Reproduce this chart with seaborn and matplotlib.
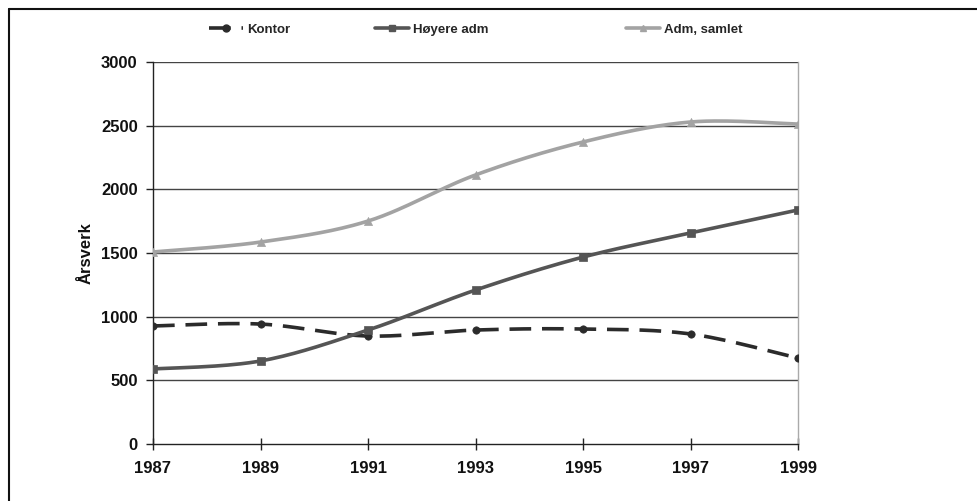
import numpy as np
import pandas as pd
import matplotlib
matplotlib.use("Agg")
import matplotlib.pyplot as plt
import seaborn as sns
from matplotlib.lines import Line2D

years = [1987, 1989, 1991, 1993, 1995, 1997, 1999]
kontor = [927, 942, 848, 895, 903, 864, 675]
hoyere_adm = [589, 652, 895, 1209, 1468, 1657, 1838]
adm_samlet = [1508, 1586, 1751, 2113, 2372, 2529, 2513]

series_names = ["Kontor", "Høyere adm", "Adm, samlet"]
series_values = [kontor, hoyere_adm, adm_samlet]
colors = ["#2b2b2b", "#555555", "#a3a3a3"]
markers = ["o", "s", "^"]
dashes = [(6, 3), None, None]

y_ticks = [0, 500, 1000, 1500, 2000, 2500, 3000]


def smooth(x, y, n=30):
    """Catmull-Rom style smoothed curve through the points (spreadsheet look)."""
    x = np.asarray(x, float)
    y = np.asarray(y, float)
    px = np.concatenate([[x[0]], x, [x[-1]]])
    py = np.concatenate([[y[0]], y, [y[-1]]])
    xs, ys = [], []
    for i in range(1, len(px) - 2):
        p0, p1, p2, p3 = (np.array([px[j], py[j]]) for j in (i - 1, i, i + 1, i + 2))
        c1 = p1 + (p2 - p0) / 6.0
        c2 = p2 - (p3 - p1) / 6.0
        t = np.linspace(0, 1, n)[:, None]
        pts = ((1 - t) ** 3) * p1 + 3 * ((1 - t) ** 2) * t * c1 + 3 * (1 - t) * t ** 2 * c2 + t ** 3 * p2
        if i > 1:
            pts = pts[1:]
        xs.append(pts[:, 0])
        ys.append(pts[:, 1])
    return np.concatenate(xs), np.concatenate(ys)


sns.set_theme(style="white")
plt.rcParams["font.family"] = ["Liberation Sans", "DejaVu Sans"]
plt.rcParams["font.weight"] = "bold"

fig = plt.figure(figsize=(9.77, 5.01), dpi=100)
ax = fig.add_axes([0.1566, 0.1138, 0.8168 - 0.1566, 0.8762 - 0.1138])

for name, vals, col, mk, ds in zip(series_names, series_values, colors, markers, dashes):
    sx, sy = smooth(years, vals)
    curve = pd.DataFrame({"År": sx, "Årsverk": sy})
    sns.lineplot(data=curve, x="År", y="Årsverk", ax=ax, color=col, lw=2.6,
                 sort=False, estimator=None, zorder=3)
    if ds:
        ax.lines[-1].set_dashes(ds)
    pts = pd.DataFrame({"År": years, "Årsverk": vals})
    sns.scatterplot(data=pts, x="År", y="Årsverk", ax=ax, color=col, marker=mk,
                    s=28 if mk != "^" else 34, edgecolor=col, linewidth=0.5, zorder=4)

ax.set_xlim(1987, 1999)
ax.set_ylim(0, 3000)
ax.set_xticks(years)
ax.set_yticks(y_ticks)
ax.set_xticklabels([str(y) for y in years], fontsize=12, fontweight="bold", color="#111111")
ax.set_yticklabels([str(v) for v in y_ticks], fontsize=12, fontweight="bold", color="#111111")
ax.set_xlabel("")
ax.set_ylabel("Årsverk", fontsize=12, fontweight="bold", color="#111111", labelpad=5)

for v in y_ticks[1:]:
    ax.axhline(v, color="#444444", lw=1.0, zorder=1)

for s in ["left", "bottom"]:
    ax.spines[s].set_color("#222222")
    ax.spines[s].set_linewidth(1.0)
ax.spines["top"].set_visible(False)
ax.spines["right"].set_color("#aaaaaa")
ax.spines["right"].set_linewidth(1.0)

ax.tick_params(axis="y", direction="out", length=5, width=1, color="#222222", pad=6, left=True)
ax.tick_params(axis="x", direction="inout", length=8, width=1, color="#222222", pad=8, bottom=True)

# legend entries placed individually along the top
handles = [
    Line2D([], [], color=colors[0], lw=2.6, marker="o", ms=5, dashes=(6, 3)),
    Line2D([], [], color=colors[1], lw=2.6, marker="s", ms=4.5),
    Line2D([], [], color=colors[2], lw=2.6, marker="^", ms=5),
]
legend_left_px = [209, 375, 626]
for h, name, xpx in zip(handles, series_names, legend_left_px):
    fig.legend([h], [name], loc="center left", bbox_to_anchor=(xpx / 977, 1 - 30 / 501),
               frameon=False, prop={"weight": "bold", "size": 9.5},
               handlelength=2.6, handletextpad=0.3, borderaxespad=0, borderpad=0)

# outer frame
fig.add_artist(Line2D([0.0093, 1.0], [1 - 9 / 501, 1 - 9 / 501], transform=fig.transFigure,
                      color="#111111", lw=1.5))
fig.add_artist(Line2D([0.0093, 0.0093], [0.0, 1 - 9 / 501], transform=fig.transFigure,
                      color="#111111", lw=1.5))

fig.savefig("out.png", dpi=100, facecolor="white")
